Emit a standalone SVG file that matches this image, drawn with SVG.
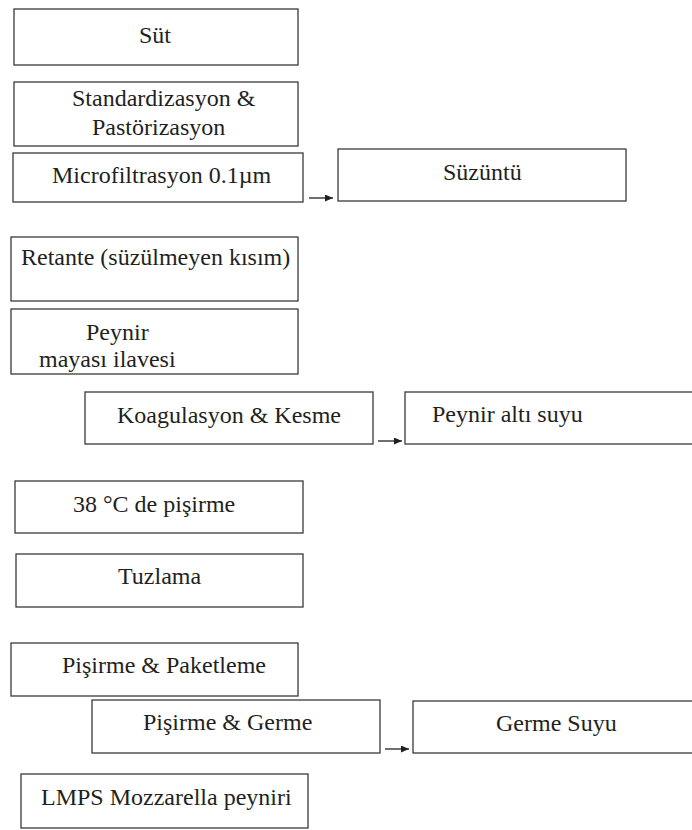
<svg xmlns="http://www.w3.org/2000/svg" width="692" height="830" viewBox="0 0 692 830">
<style>
.box{fill:#fff;stroke:#3a3a3a;stroke-width:1.3}
.t{font-family:"Liberation Serif","Times New Roman",serif;font-size:24px;fill:#231f20}
.c{stroke:#231f20;stroke-width:1.3;fill:none}
</style>
<defs>
<marker id="ah" markerWidth="8" markerHeight="7" refX="8" refY="3.5" orient="auto" markerUnits="userSpaceOnUse">
<path d="M0,0 L8,3.5 L0,7 Z" fill="#231f20"/>
</marker>
</defs>
<rect width="692" height="830" fill="#fff"/>
<g id="n-sut"><rect class="box" x="14" y="9" width="284" height="56"/><text class="t" x="139" y="43">Süt</text></g>
<g id="n-standard"><rect class="box" x="14" y="82" width="284" height="64"/><text class="t" x="72" y="106">Standardizasyon &amp;</text><text class="t" x="92" y="135">Pastörizasyon</text></g>
<g id="n-micro"><rect class="box" x="13" y="153" width="290" height="49"/><text class="t" x="52" y="183">Microfiltrasyon 0.1µm</text></g>
<g id="n-suzuntu"><rect class="box" x="338" y="149" width="288" height="52"/><text class="t" x="443" y="180">Süzüntü</text></g>
<g id="n-retante"><rect class="box" x="11" y="237" width="287" height="64"/><text class="t" x="21" y="265">Retante (süzülmeyen kısım)</text></g>
<g id="n-maya"><rect class="box" x="11" y="309" width="287" height="65"/><text class="t" x="86" y="340">Peynir</text><text class="t" x="39" y="367">mayası ilavesi</text></g>
<g id="n-koag"><rect class="box" x="85" y="392" width="288" height="52"/><text class="t" x="117" y="423">Koagulasyon &amp; Kesme</text></g>
<g id="n-peyniralti"><rect class="box" x="405" y="392" width="300" height="52"/><text class="t" x="432" y="422">Peynir altı suyu</text></g>
<g id="n-pisirme38"><rect class="box" x="15" y="481" width="288" height="52"/><text class="t" x="73" y="512">38 °C de pişirme</text></g>
<g id="n-tuz"><rect class="box" x="16" y="554" width="287" height="53"/><text class="t" x="118" y="584">Tuzlama</text></g>
<g id="n-paket"><rect class="box" x="11" y="643" width="287" height="53"/><text class="t" x="62" y="673">Pişirme &amp; Paketleme</text></g>
<g id="n-germe"><rect class="box" x="92" y="700" width="288" height="53"/><text class="t" x="143" y="730">Pişirme &amp; Germe</text></g>
<g id="n-germesuyu"><rect class="box" x="413" y="701" width="300" height="52"/><text class="t" x="496" y="731">Germe Suyu</text></g>
<g id="n-lmps"><rect class="box" x="21" y="774" width="287" height="54"/><text class="t" x="41" y="805">LMPS Mozzarella peyniri</text></g>
<g id="connectors">
<line class="c" x1="309" y1="198" x2="333" y2="198" marker-end="url(#ah)"/>
<line class="c" x1="378" y1="441" x2="402" y2="441" marker-end="url(#ah)"/>
<line class="c" x1="385" y1="749" x2="409" y2="749" marker-end="url(#ah)"/>
</g>
</svg>
